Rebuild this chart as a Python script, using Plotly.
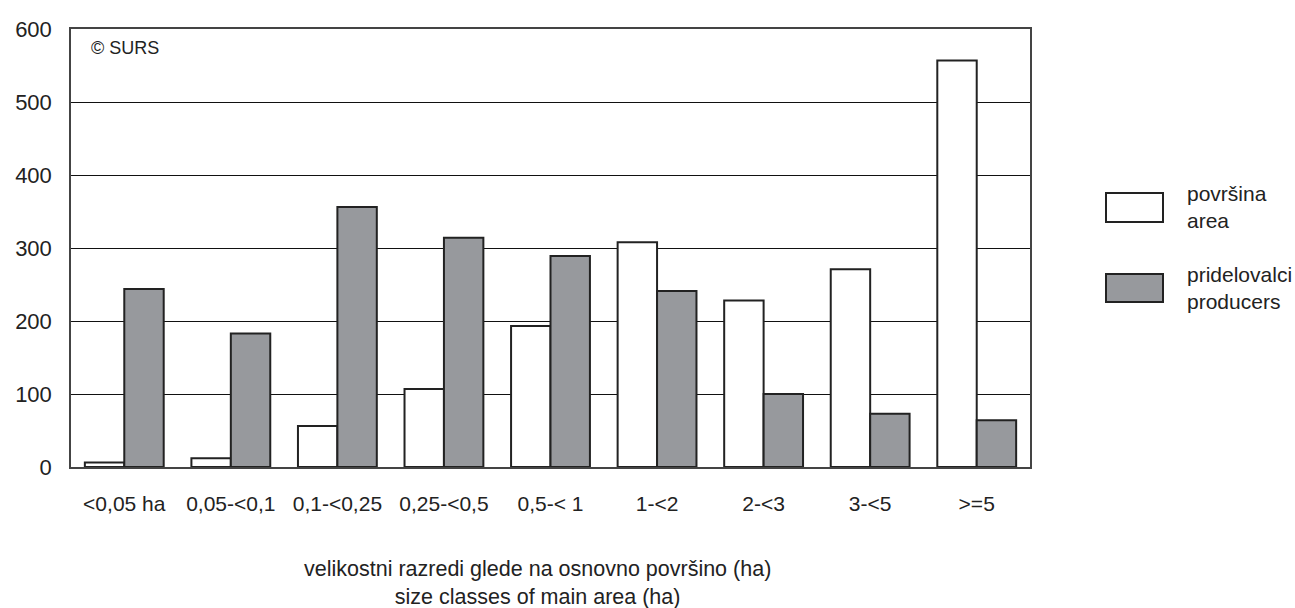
import plotly.graph_objects as go

categories = ["<0,05 ha", "0,05-<0,1", "0,1-<0,25", "0,25-<0,5", "0,5-< 1",
              "1-<2", "2-<3", "3-<5", ">=5"]
area_values = [6, 12, 56, 107, 193, 308, 228, 271, 557]
producer_values = [244, 183, 356, 314, 289, 241, 100, 73, 64]
y_ticks = [0, 100, 200, 300, 400, 500, 600]
series_names = ["površina<br>area", "pridelovalci<br>producers"]

W, H = 1295, 608
L, R, T, B = 71, 1030, 29, 467
FONT = "Liberation Sans, Arial, sans-serif"
GRAY = "#97999d"
EDGE = "#222222"


def px(x):
    return (x - L) / (R - L)


def py(y):
    return (B - y) / (B - T)


fig = go.Figure()
fig.add_trace(go.Bar(x=categories, y=area_values, name="površina area",
                     marker=dict(color="white", line=dict(color=EDGE, width=2)),
                     showlegend=False))
fig.add_trace(go.Bar(x=categories, y=producer_values, name="pridelovalci producers",
                     marker=dict(color=GRAY, line=dict(color=EDGE, width=2)),
                     showlegend=False))

fig.update_layout(
    width=W, height=H,
    margin=dict(l=L, r=W - R, t=T, b=H - B, pad=0),
    paper_bgcolor="white", plot_bgcolor="white",
    barmode="group", bargap=0.26, bargroupgap=0,
    font=dict(family=FONT, size=20, color="#222222"),
    xaxis=dict(showgrid=False, showline=True, mirror=True, linecolor="#444444",
               linewidth=1.5, ticks="", tickfont=dict(size=21),
               ticklabelstandoff=17),
    yaxis=dict(range=[0, 600], tickvals=y_ticks, showgrid=True, gridcolor="#111111",
               gridwidth=1, zeroline=False, showline=True, mirror=True,
               linecolor="#444444", linewidth=1.5, ticks="",
               tickfont=dict(size=22), ticklabelstandoff=13),
)

annotations = [
    dict(text="© SURS", x=px(89), y=py(48), xref="paper", yref="paper",
         xanchor="left", yanchor="middle", showarrow=False,
         font=dict(size=18, color="#222222")),
    dict(text="velikostni razredi glede na osnovno površino (ha)<br>size classes of main area (ha)",
         x=px(537), y=py(583), xref="paper", yref="paper",
         xanchor="center", yanchor="middle", showarrow=False,
         font=dict(size=21.5, color="#222222")),
]

legend_boxes = [(193, 222, "white"), (274, 302, GRAY)]
shapes = []
for (y0, y1, col), name in zip(legend_boxes, series_names):
    shapes.append(dict(type="rect", xref="paper", yref="paper",
                       x0=px(1106), x1=px(1163), y0=py(y1), y1=py(y0),
                       fillcolor=col, line=dict(color=EDGE, width=2)))
    annotations.append(dict(text=name, x=px(1185), y=py((y0 + y1) / 2),
                            xref="paper", yref="paper", xanchor="left",
                            yanchor="middle", align="left", showarrow=False,
                            font=dict(size=21, color="#222222")))

fig.update_layout(annotations=annotations, shapes=shapes)
fig.write_html("out.html", config={"displayModeBar": False},
               post_script="document.body.style.margin='0';")
